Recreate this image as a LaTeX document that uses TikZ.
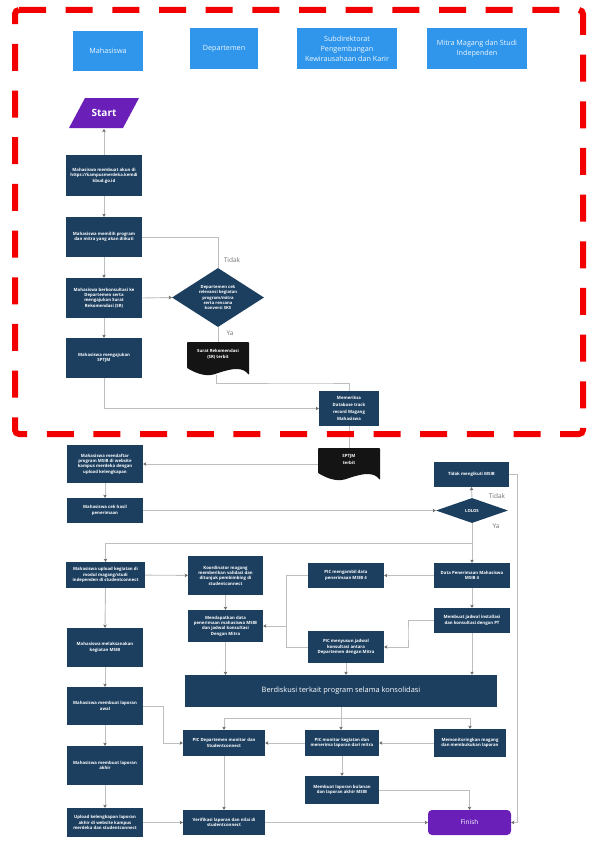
\documentclass[tikz,border=0pt]{standalone}
\usepackage{fontspec}
\setmainfont{Open Sans}
\usetikzlibrary{arrows.meta,shapes.geometric}
\definecolor{navy}{HTML}{1C3F60}
\definecolor{hdr}{HTML}{2F96EC}
\definecolor{purp}{HTML}{6A1FB8}
\definecolor{ink}{HTML}{141414}
\definecolor{wire}{HTML}{BEBEBE}
\tikzset{
  navybox/.style={fill=navy,text=white,inner sep=0pt,align=center,font=\fontsize{4.3}{5.4}\selectfont\bfseries},
  hdrbox/.style={fill=hdr,text=white!92!hdr,inner sep=0pt,align=center,font=\fontsize{7.2}{10}\selectfont},
  docbox/.style={text=white,inner sep=0pt,align=center,font=\fontsize{4.3}{6.5}\selectfont\bfseries},
  lab/.style={text=black!55,inner sep=0pt,font=\fontsize{6.5}{8}\selectfont},
  wirep/.style={draw=wire,line width=0.9pt},
  conn/.style={wirep,-{Stealth[length=3.2pt,width=3.6pt,color=black!60]}},
  dia/.style={diamond,fill=navy,text=white,inner sep=0pt,aspect=1,align=center,font=\fontsize{4.2}{5.3}\selectfont\bfseries},
}
% doc shape: centre x, top y, half width, height
\newcommand{\wavedoc}[4]{%
  \fill[ink,rounded corners=0.8pt] (#1-#3,#2) -- (#1+#3,#2) -- (#1+#3,#2+#4)
    .. controls (#1+#3-6,#2+#4-8) and (#1+#3-16,#2+#4-7) .. (#1,#2+#4-2)
    .. controls (#1-10,#2+#4+2) and (#1-#3+12,#2+#4) .. (#1-#3,#2+#4-7) -- cycle;}
\begin{document}
\begin{tikzpicture}[x=1pt,y=-1pt]
\useasboundingbox (0,0) rectangle (590,843);
\fill[white] (0,0) rectangle (590,843);

\wavedoc{218}{342}{31}{33}
\wavedoc{349}{448}{31}{32}

% Headers
\node[hdrbox,minimum width=70pt,minimum height=40pt] (h1) at (108,51) {Mahasiswa};
\node[hdrbox,minimum width=68pt,minimum height=41pt] (h2) at (224,48.5) {Departemen};
\node[hdrbox,minimum width=100pt,minimum height=41pt] (h3) at (347,48.5) {Subdirektorat\\Pengembangan\\Kewirausahaan dan Karir};
\node[hdrbox,minimum width=100pt,minimum height=41pt] (h4) at (477,48.5) {Mitra Magang dan Studi\\Independen};

% Start
\fill[purp] (85,98) -- (139,98) -- (123,128) -- (69,128) -- cycle;
\node[text=white,inner sep=0pt,minimum width=54pt,minimum height=30pt,font=\fontsize{10}{12}\selectfont\bfseries] (st) at (104,113) {Start};

% Column 1 upper
\node[navybox,minimum width=76pt,minimum height=41pt] (a1) at (104,175.5) {Mahasiswa membuat akun di\\https://kampusmerdeka.kemdi\\kbud.go.id};
\node[navybox,minimum width=76pt,minimum height=40pt] (a2) at (104,237) {Mahasiswa memilih program\\dan mitra yang akan diikuti};
\node[navybox,minimum width=76pt,minimum height=40pt] (a3) at (104,298) {Mahasiswa berkonsultasi ke\\Departemen serta\\mengajukan Surat\\Rekomendasi (SR)};
\node[navybox,minimum width=76pt,minimum height=40pt] (a4) at (104,358) {Mahasiswa mengajukan\\SPTJM};
\node[dia,minimum width=92pt,minimum height=59pt,shape aspect=1.56] (d1) at (218,297.5) {Departemen cek\\relevansi kegiatan\\program/mitra\\serta rencana\\konversi SKS};
\node[docbox,minimum width=62pt,minimum height=33pt] (doc1) at (218,358.5) {Surat Rekomendasi\\(SR) terbit\\[3pt]};
\node[navybox,minimum width=60pt,minimum height=35pt,font=\fontsize{4.3}{7}\selectfont\bfseries] (a5) at (349,408.5) {Memeriksa\\Database track\\record Magang\\Mahasiswa};
\node[docbox,minimum width=62pt,minimum height=32pt] (doc2) at (349,464) {SPTJM\\terbit\\[3pt]};

% Lower left
\node[navybox,minimum width=76pt,minimum height=38pt] (b1) at (105,464) {Mahasiswa mendaftar\\program MSIB di website\\kampus merdeka dengan\\upload kelengkapan};
\node[navybox,minimum width=76pt,minimum height=25pt] (b2) at (105,510.5) {Mahasiswa cek hasil\\penerimaan};
\node[navybox,minimum width=79pt,minimum height=26pt] (b3) at (105.5,575) {Mahasiswa upload kegiatan di\\modul magang/studi\\independen di studentconnect};
\node[navybox,minimum width=76pt,minimum height=39pt] (b4) at (105,647.5) {Mahasiswa melaksanakan\\kegiatan MSIB};
\node[navybox,minimum width=76pt,minimum height=38pt] (b5) at (105,706) {Mahasiswa membuat laporan\\awal};
\node[navybox,minimum width=76pt,minimum height=39pt] (b6) at (105,765.5) {Mahasiswa membuat laporan\\akhir};
\node[navybox,minimum width=76pt,minimum height=29pt] (b7) at (105,822.5) {Upload kelengkapan laporan\\akhir di website kampus\\merdeka dan studentconnect};

% Column 2
\node[navybox,minimum width=75pt,minimum height=39pt] (c1) at (225.5,575.5) {Koordinator magang\\memberikan validasi dan\\ditunjuk pembimbing di\\studentconnect};
\node[navybox,minimum width=75pt,minimum height=32pt] (c2) at (225.5,626) {Mendapatkan data\\penerimaan mahasiswa MSIB\\dan jadwal konsultasi\\Dengan Mitra};
\node[navybox,minimum width=82pt,minimum height=26pt] (c3) at (224,743) {PIC Departemen monitor dan\\Studentconnect};
\node[navybox,minimum width=82pt,minimum height=25pt] (c4) at (224,822.5) {Verifikasi laporan dan nilai di\\studentconnect};

% Big box
\node[navybox,minimum width=312pt,minimum height=32pt,font=\fontsize{7.4}{10}\selectfont] (big) at (341,691) {Berdiskusi terkait program selama konsolidasi};

% Column 3
\node[navybox,minimum width=76pt,minimum height=25pt] (e1) at (346,575.5) {PIC mengambil data\\penerimaan MSIB 4};
\node[navybox,minimum width=76pt,minimum height=32pt] (e2) at (346,647) {PIC menyusun jadwal\\konsultasi antara\\Departemen dengan Mitra};
\node[navybox,minimum width=74pt,minimum height=26pt] (e3) at (342,743) {PIC monitor kegiatan dan\\menerima laporan dari mitra};
\node[navybox,minimum width=74pt,minimum height=28pt] (e4) at (342,790) {Membuat laporan bulanan\\dan laporan akhir MSIB};

% Column 4
\node[navybox,minimum width=75pt,minimum height=25pt] (f1) at (471.5,474.5) {Tidak mengikuti MSIB};
\node[dia,minimum width=72pt,minimum height=25pt,shape aspect=2.88,font=\fontsize{4.2}{5}\selectfont\bfseries] (d2) at (472,510.5) {LOLOS};
\node[navybox,minimum width=76pt,minimum height=25pt] (f2) at (472,575.5) {Data Penerimaan Mahasiswa\\MSIB 4};
\node[navybox,minimum width=76pt,minimum height=25pt] (f3) at (472,620.5) {Membuat jadwal installasi\\dan konsultasi dengan PT};
\node[navybox,minimum width=72pt,minimum height=28pt] (f4) at (470,743) {Memonitoringkan magang\\dan membukukan laporan};
\node[fill=purp,text=white,rounded corners=4pt,inner sep=0pt,minimum width=83pt,minimum height=25pt,font=\fontsize{6.5}{9}\selectfont] (fin) at (469.5,822.5) {Finish};

% Labels
\node[lab] (t1) at (232,260) {Tidak};
\node[lab] (y1) at (230,333) {Ya};
\node[lab] (t2) at (497,496) {Tidak};
\node[lab] (y2) at (496,526) {Ya};

% Junctions
\coordinate (j1) at (472,543);
\coordinate (j2) at (286,626);
\coordinate (j3) at (341,718);
\coordinate (j4) at (408,634);
\coordinate (j5) at (216,375);

% Connectors
\draw[conn] (a1.north) -- (a1.north |- 0,129);
\draw[conn] (a1) -- (a2);
\draw[conn] (a2) -- (a3);
\draw[conn] (a3) -- (a4);
\draw[wirep] (a2.east) -| (d1.north);
\draw[conn] (a3.east) -- (d1.west);
\draw[wirep] (d1.south) -- (doc1.north);
\draw[wirep] (j5) |- (a5.north west |- 0,383) -| (a5.north);
\draw[conn] (a4.south) |- (a5.west);
\draw[wirep] (a5.south) -- (doc2.north);
\draw[conn] (doc2.west) -- (b1.east);
\draw[conn] (b1) -- (b2);
\draw[conn] (b2.east) -- (d2.west);
\draw[conn] (d2.north) -- (f1.south);
\draw[conn] (d2.south) -- (f2.north);
\draw[conn] (j1) -| (b3.north);
\draw[conn] (b3) -- (c1);
\draw[conn] (b3.south) -- (b4.north);
\draw[conn] (b4) -- (b5);
\draw[conn] (b5) -- (b6);
\draw[conn] (b6) -- (b7);
\draw[conn] (b7) -- (c4);
\draw[conn] (c1) -- (c2);
\draw[conn] (c2.south) -- (c2.south |- big.north);
\draw[conn] (f2) -- (e1);
\draw[conn] (f2) -- (f3);
\draw[conn] (f3.south) -- (f3.south |- big.north);
\draw[conn] (e1.west) -| (j2) -- (c2.east);
\draw[wirep] (e2.west) -| (j2);
\draw[conn] (f3.west) -| (j4) |- (e2.east);
\draw[conn] (e2.south) -- (e2.south |- big.north);
\draw[conn] (big.south) -- (e3.north -| big.south);
\draw[conn] (j3) -| (c3.north);
\draw[conn] (j3) -| (f4.north);
\draw[conn] (f4) -- (e3);
\draw[conn] (e3) -- (c3);
\draw[conn] (e3) -- (e4);
\draw[conn] (c3) -- (c4);
\draw[conn] (c4) -- (fin);
\draw[conn] (e4.east) -| (fin.north);
\draw[conn] (f1.east) -- ++(8,0) |- (fin.east);
\draw[conn] (b5.east) -- ++(20,0) |- (c3.west);

% Red dashed frame
\draw[red!95!black,line width=6pt,dash pattern=on 27pt off 19.67pt,rounded corners=4pt] (15,10) -- (583,10) -- (583,434) -- (15,434) -- cycle;
\end{tikzpicture}
\end{document}
